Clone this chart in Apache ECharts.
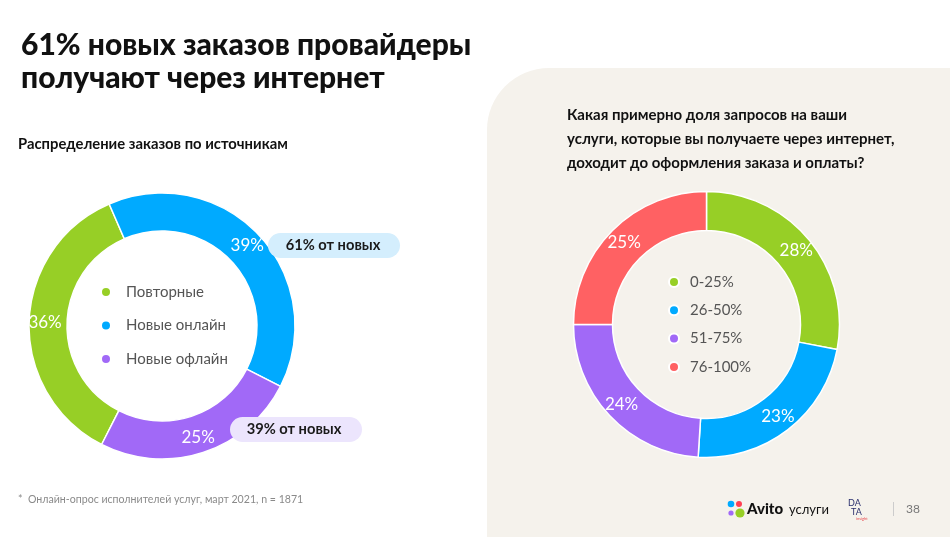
<!DOCTYPE html>
<html>
<head>
<meta charset="utf-8">
<script src="https://cdn.jsdelivr.net/npm/echarts@6/dist/echarts.min.js"></script>
<style>
  html, body { margin: 0; padding: 0; background: #ffffff; }
  #chart { width: 950px; height: 537px; }
</style>
</head>
<body>
<div id="chart"></div>
<script>
// ---- data ----
const leftCategories = ['Повторные', 'Новые онлайн', 'Новые офлайн'];
const leftValues = [36, 39, 25];
const leftColors = ['#97CF26', '#00AAFF', '#A169F7'];

const rightCategories = ['0-25%', '26-50%', '51-75%', '76-100%'];
const rightValues = [28, 23, 24, 25];
const rightColors = ['#97CF26', '#00AAFF', '#A169F7', '#FF6163'];

const titleText = '61% новых заказов провайдеры\nполучают через интернет';
const leftSubtitle = 'Распределение заказов по источникам';
const rightQuestion = 'Какая примерно доля запросов на ваши\nуслуги, которые вы получаете через интернет,\nдоходит до оформления заказа и оплаты?';
const badgeOnline = '61% от новых';
const badgeOffline = '39% от новых';
const footnote = '*  Онлайн-опрос исполнителей услуг, март 2021, n = 1871';
const pageNumber = '38';

const FONT = 'Lato, "Noto Sans", sans-serif';

const chart = echarts.init(document.getElementById('chart'), null, { renderer: 'canvas' });

function pieData(cats, vals, cols) {
  return cats.map((c, i) => ({ name: c, value: vals[i], itemStyle: { color: cols[i] } }));
}

const option = {
  animation: false,
  backgroundColor: '#ffffff',
  title: {
    text: titleText,
    left: 16,
    top: 24,
    textStyle: { fontFamily: FONT, fontSize: 30, fontWeight: 900, color: '#111111', lineHeight: 33 }
  },
  legend: [
    {
      data: leftCategories,
      orient: 'vertical',
      left: 95,
      top: 278,
      icon: 'circle',
      itemWidth: 10,
      itemHeight: 10,
      itemGap: 15.5,
      selectedMode: false,
      textStyle: { fontFamily: FONT, fontSize: 15, color: '#555555', lineHeight: 18, padding: [0, 0, 0, 10] }
    },
    {
      data: rightCategories,
      orient: 'vertical',
      left: 663,
      top: 268,
      icon: 'circle',
      itemWidth: 10,
      itemHeight: 10,
      itemGap: 10.3,
      selectedMode: false,
      textStyle: { fontFamily: FONT, fontSize: 15, color: '#555555', lineHeight: 18, padding: [0, 0, 0, 6] }
    }
  ],
  graphic: [
    // right beige panel
    { type: 'rect', z: -10, shape: { x: 487, y: 68, width: 520, height: 520, r: [62, 0, 0, 0] }, style: { fill: '#F5F2EC' } },
    // subtitles
    { type: 'text', x: 18, y: 144, style: { text: leftSubtitle, fontFamily: FONT, fontSize: 14.8, fontWeight: 'bold', fill: '#111111', verticalAlign: 'middle' } },
    { type: 'text', x: 567, y: 103, style: { text: rightQuestion, fontFamily: FONT, fontSize: 15, fontWeight: 'bold', fill: '#111111', lineHeight: 24, verticalAlign: 'top' } },
    // badges (drawn over the ring)
    { type: 'rect', z: 10, shape: { x: 268, y: 233, width: 132, height: 25, r: 12.5 }, style: { fill: '#D4EEFD' } },
    { type: 'text', z: 11, x: 333, y: 245.5, style: { text: badgeOnline, fontFamily: FONT, fontSize: 14.7, fontWeight: 'bold', fill: '#1a1a1a', align: 'center', verticalAlign: 'middle' } },
    { type: 'rect', z: 10, shape: { x: 230, y: 417, width: 132, height: 25, r: 12.5 }, style: { fill: '#ECE5FD' } },
    { type: 'text', z: 11, x: 294, y: 429.5, style: { text: badgeOffline, fontFamily: FONT, fontSize: 14.7, fontWeight: 'bold', fill: '#1a1a1a', align: 'center', verticalAlign: 'middle' } },
    // footnote
    { type: 'text', x: 18, y: 500, style: { text: footnote, fontFamily: FONT, fontSize: 10.6, fill: '#8a8a8a', verticalAlign: 'middle' } },
    // Avito logo dots
    { type: 'circle', shape: { cx: 731, cy: 504, r: 3.3 }, style: { fill: '#00AAFF' } },
    { type: 'circle', shape: { cx: 739, cy: 504, r: 3.0 }, style: { fill: '#FF4053' } },
    { type: 'circle', shape: { cx: 731, cy: 513, r: 2.6 }, style: { fill: '#A169F7' } },
    { type: 'circle', shape: { cx: 740, cy: 513, r: 4.6 }, style: { fill: '#97CF26' } },
    { type: 'text', x: 747, y: 509, style: { text: 'Avito', fontFamily: FONT, fontSize: 15, fontWeight: 900, fill: '#111111', verticalAlign: 'middle' } },
    { type: 'text', x: 789, y: 510, style: { text: 'услуги', fontFamily: FONT, fontSize: 13, fill: '#111111', verticalAlign: 'middle' } },
    // DATA insight logo
    { type: 'text', x: 848, y: 503, style: { text: 'DA', fontFamily: FONT, fontSize: 9, fill: '#2A2F6E', verticalAlign: 'middle' } },
    { type: 'text', x: 851, y: 512, style: { text: 'TA', fontFamily: FONT, fontSize: 9, fill: '#2A2F6E', verticalAlign: 'middle' } },
    { type: 'text', x: 856, y: 519, style: { text: 'insight', fontFamily: FONT, fontSize: 4, fill: '#E8484E', verticalAlign: 'middle' } },
    // separator + page number
    { type: 'line', shape: { x1: 893.5, y1: 502, x2: 893.5, y2: 516 }, style: { stroke: '#cccccc', lineWidth: 1 } },
    { type: 'text', x: 906, y: 509, style: { text: pageNumber, fontFamily: FONT, fontSize: 12, fill: '#777777', verticalAlign: 'middle' } }
  ],
  series: [
    {
      type: 'pie',
      center: [162, 326],
      radius: [95, 133],
      startAngle: 243,
      clockwise: true,
      avoidLabelOverlap: false,
      silent: true,
      itemStyle: { borderColor: '#ffffff', borderWidth: 1.5 },
      label: { show: true, position: 'inside', formatter: '{c}%', color: '#ffffff', fontFamily: FONT, fontSize: 17 },
      labelLine: { show: false },
      data: pieData(leftCategories, leftValues, leftColors)
    },
    {
      type: 'pie',
      center: [706.5, 324.5],
      radius: [94, 133],
      startAngle: 90,
      clockwise: true,
      avoidLabelOverlap: false,
      silent: true,
      itemStyle: { borderColor: '#ffffff', borderWidth: 1.5 },
      label: { show: true, position: 'inside', formatter: '{c}%', color: '#ffffff', fontFamily: FONT, fontSize: 17 },
      labelLine: { show: false },
      data: pieData(rightCategories, rightValues, rightColors)
    }
  ]
};

chart.setOption(option);
</script>
</body>
</html>
